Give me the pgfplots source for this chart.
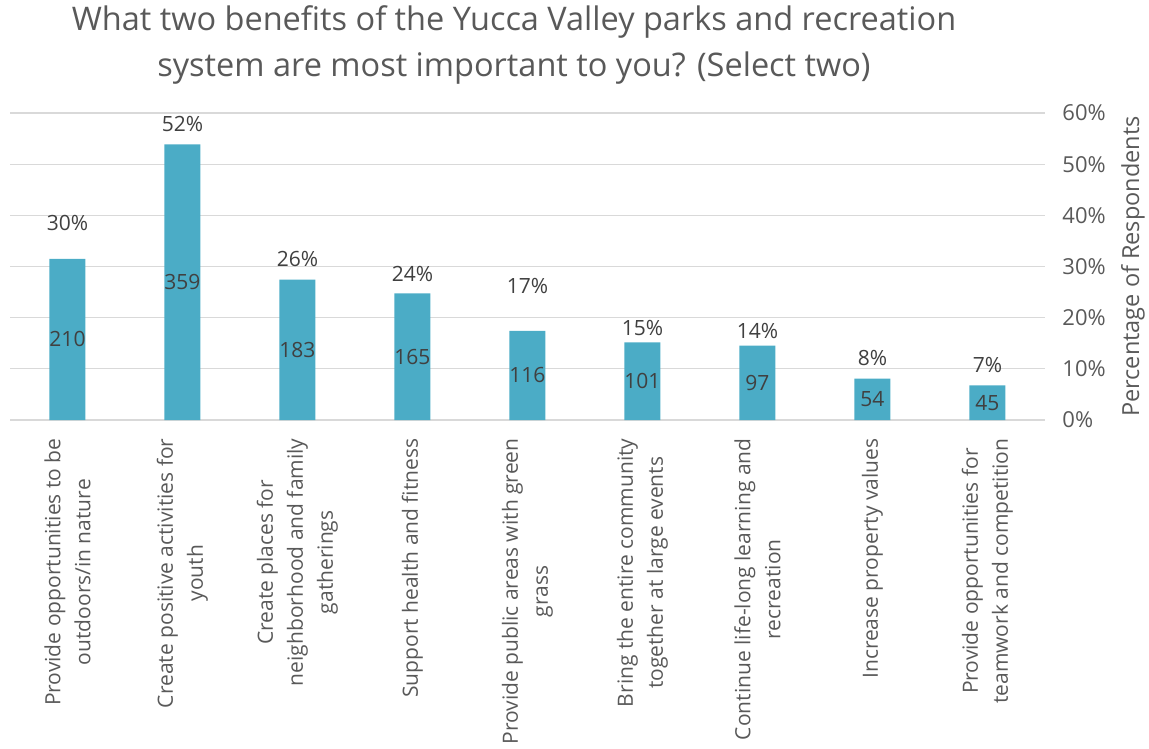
\documentclass[border=0pt]{standalone}
\usepackage{pgfplots}
\pgfplotsset{compat=1.18}
\usepackage{fontspec}
\setmainfont{Open Sans}
\definecolor{barc}{HTML}{4BACC6}
\definecolor{txt}{HTML}{595959}
\definecolor{lbl}{HTML}{404040}
\definecolor{grd}{HTML}{D9D9D9}
\begin{document}
\begin{tikzpicture}[x=1pt,y=1pt]
\useasboundingbox (0,0) rectangle (1149,748);
\node[align=center, text=txt, font=\fontsize{32.5}{46}\selectfont] at (514,703)
  {What two benefits of the Yucca Valley parks and recreation\\system are most important to you? (Select two)};
% secondary axis: percentages, grid, right ticks
\begin{axis}[at={(10pt,328pt)}, anchor=south west, scale only axis,
  width=1035pt, height=307pt,
  xmin=-0.5, xmax=8.5, ymin=0, ymax=60,
  xtick=\empty, axis line style={draw=none},
  ytick={0,10,20,30,40,50,60},
  yticklabels={0\%,10\%,20\%,30\%,40\%,50\%,60\%},
  yticklabel pos=right, yticklabel shift=14pt,
  major tick length=0pt,
  ymajorgrids, grid style={grd, line width=1.2pt},
  yticklabel style={text=txt, font=\fontsize{22}{26}\selectfont, anchor=west},
  ylabel={Percentage of Respondents},
  every axis y label/.style={at={(rel axis cs:1,0.5)}, xshift=88pt, rotate=90, anchor=center,
     text=txt, font=\fontsize{23.5}{27}\selectfont},
]
\addplot[draw=none] coordinates {(0,0)};
\end{axis}
% primary axis: counts (hidden scale 0-400)
\begin{axis}[at={(10pt,328pt)}, anchor=south west, scale only axis,
  width=1035pt, height=307pt,
  xmin=-0.5, xmax=8.5, ymin=0, ymax=400,
  hide y axis, x axis line style={draw=none},
  major tick length=0pt,
  xtick={0,1,2,3,4,5,6,7,8},
  xticklabels={
    {Provide opportunities to be\\outdoors/in nature},
    {Create positive activities for\\youth},
    {Create places for\\neighborhood and family\\gatherings},
    {Support health and fitness},
    {Provide public areas with green\\grass},
    {Bring the entire community\\together at large events},
    {Continue life-long learning and\\recreation},
    {Increase property values},
    {Provide opportunities for\\teamwork and competition}},
  xticklabel style={rotate=90, anchor=east, align=center, text=txt,
     font=\fontsize{21}{30}\selectfont},
  xticklabel shift=15pt,
]
\addplot[ybar, bar width=36pt, fill=barc, draw=none,
  nodes near coords={\pgfmathprintnumber[assume math mode=true]{\pgfplotspointmeta}},
  visualization depends on={y \as \rawy},
  every node near coord/.append style={anchor=center, text=lbl,
     font=\fontsize{21}{25}\selectfont,
     shift={(axis direction cs:0,-0.5*\rawy)}}]
  coordinates {(0,210) (1,359) (2,183) (3,165) (4,116) (5,101) (6,97) (7,54) (8,45)};
\addplot[draw=none, mark=none, nodes near coords, point meta=explicit symbolic,
  every node near coord/.append style={anchor=center, text=lbl,
     font=\fontsize{21}{25}\selectfont}]
  coordinates {(0,257)[30\%] (1,386)[52\%] (2,210)[26\%] (3,190)[24\%] (4,175)[17\%]
               (5,120)[15\%] (6,116)[14\%] (7,81)[8\%] (8,72)[7\%]};
\end{axis}
\end{tikzpicture}
\end{document}
